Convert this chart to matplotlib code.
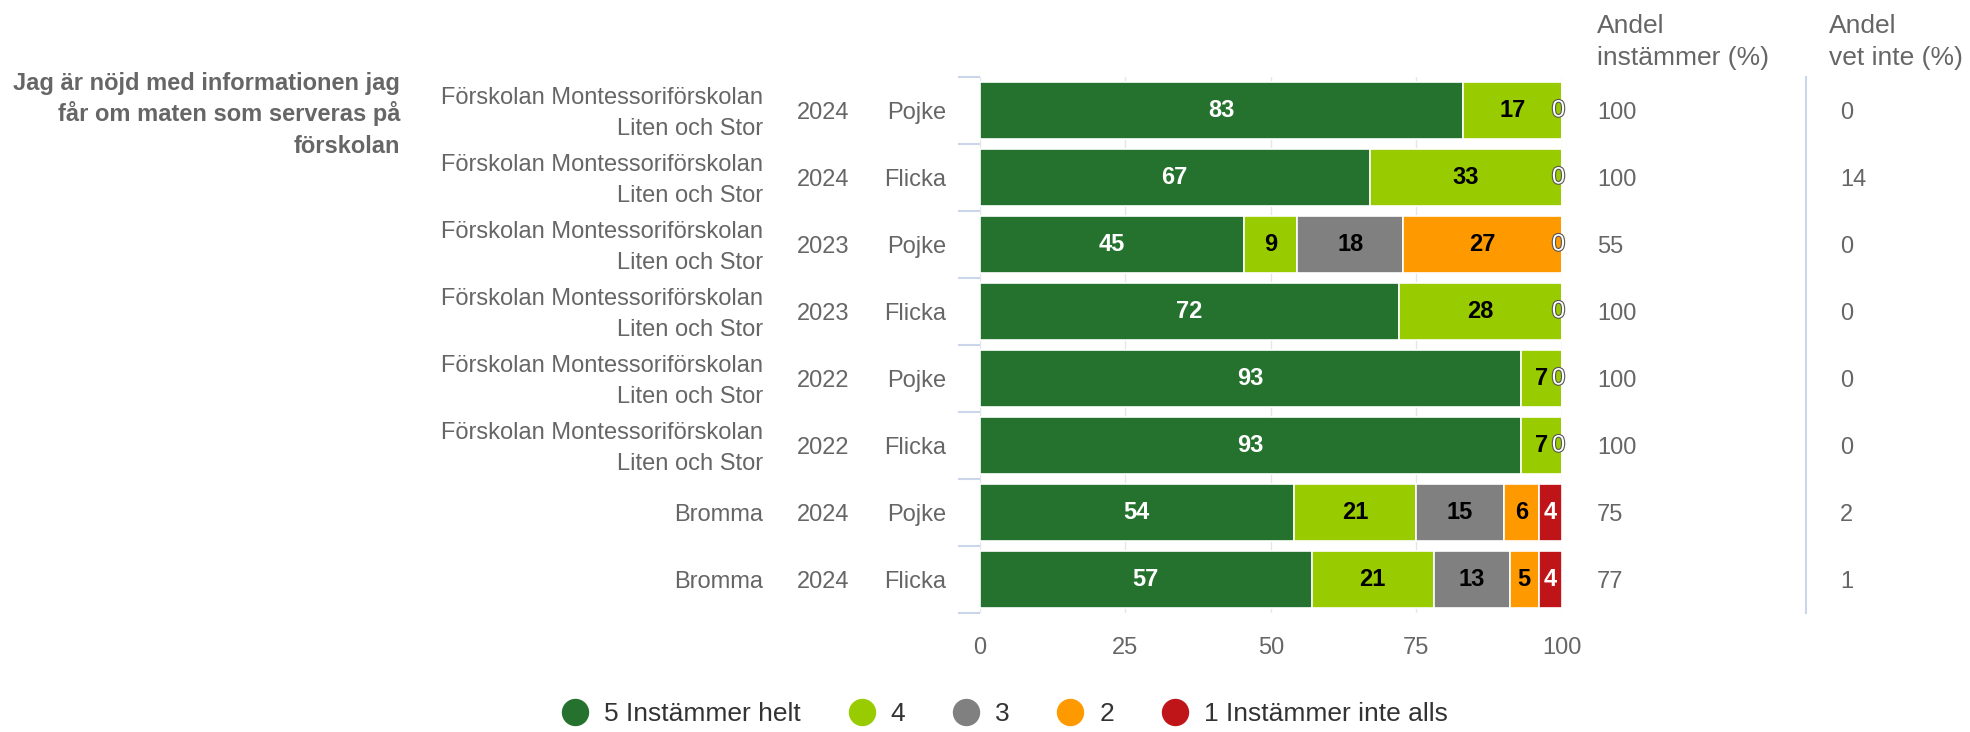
import matplotlib
matplotlib.use('Agg')
import matplotlib.pyplot as plt
import matplotlib.transforms as mtransforms
from matplotlib.lines import Line2D
import matplotlib.patheffects as pe
import numpy as np

plt.rcParams['font.family'] = ['Liberation Sans', 'DejaVu Sans']

# ---------------- data ----------------
title_lines = ["Jag är nöjd med informationen jag", "får om maten som serveras på", "förskolan"]
units = ["Förskolan Montessoriförskolan\nLiten och Stor"] * 6 + ["Bromma"] * 2
years = ["2024", "2024", "2023", "2023", "2022", "2022", "2024", "2024"]
genders = ["Pojke", "Flicka", "Pojke", "Flicka", "Pojke", "Flicka", "Pojke", "Flicka"]
series_names = ["5 Instämmer helt", "4", "3", "2", "1 Instämmer inte alls"]
s5 = [83, 67, 45.45, 72, 93, 93, 54, 57]
s4 = [17, 33, 9.09, 28, 7, 7, 21, 21]
s3 = [0, 0, 18.18, 0, 0, 0, 15, 13]
s2 = [0, 0, 27.27, 0, 0, 0, 6, 5]
s1 = [0, 0, 0, 0, 0, 0, 4, 4]
andel_instammer = [100, 100, 55, 100, 100, 100, 75, 77]
andel_vet_inte = [0, 14, 0, 0, 0, 0, 2, 1]
col_headers = [("Andel", "instämmer (%)"), ("Andel", "vet inte (%)")]
xticks = [0, 25, 50, 75, 100]

# ---------------- style ----------------
colors = ['#25722f', '#99cc00', '#808080', '#ff9900', '#bf1519']
label_colors = ['white', 'black', 'black', 'black', 'white']
TXT = '#666666'
W, H = 1970, 732
DPI = 100
FS = 17

fig = plt.figure(figsize=(W / DPI, H / DPI), dpi=DPI)
fx = lambda x: x / W
fy = lambda y: 1 - y / H

ax = fig.add_axes([fx(979.5), fy(613), (1562 - 979.5) / W, (613 - 77) / H])
series = [s5, s4, s3, s2, s1]
n = len(units)
ypos = np.arange(n)
left = np.zeros(n)
for j, vals in enumerate(series):
    vals = np.array(vals, dtype=float)
    ax.barh(ypos, vals, left=left, height=0.85, color=colors[j],
            edgecolor='white', linewidth=1.2, zorder=2)
    left = left + vals

# data labels
left = np.zeros(n)
zero_drawn = [False] * n
for j, vals in enumerate(series):
    for i, v in enumerate(vals):
        if v > 0:
            ax.text(left[i] + v / 2, i, f"{round(v)}", ha='center', va='center',
                    fontsize=FS, fontweight='bold', color=label_colors[j], zorder=4)
        elif not zero_drawn[i]:
            zero_drawn[i] = True
            ax.text(left[i] - 0.6, i, "0", ha='center', va='center', fontsize=FS,
                    color='white', zorder=4,
                    path_effects=[pe.withStroke(linewidth=1.6, foreground='#555555')])
    left = left + np.array(vals, dtype=float)

ax.set_xlim(0, 100)
ax.set_ylim(n - 0.5, -0.5)
ax.set_xticks(xticks)
ax.set_xticklabels([str(t) for t in xticks])
ax.tick_params(axis='x', length=0, pad=17.5, labelsize=FS, labelcolor=TXT)
ax.set_yticks(np.arange(-0.5, n, 1))
ax.set_yticklabels([])
ax.tick_params(axis='y', length=15.8, width=1.5, color='#ccd6eb', direction='out')
ax.grid(axis='x', color='#e6e6e6', lw=1, zorder=0)
ax.set_axisbelow(True)
for s in ax.spines.values():
    s.set_visible(False)

trans = mtransforms.blended_transform_factory(fig.transFigure, ax.transData)


def off(dy):
    return mtransforms.offset_copy(trans, fig=fig, y=dy, units='dots')


for i in range(n):
    parts = units[i].split("\n")
    if len(parts) == 2:
        ax.text(fx(763), i, parts[0], transform=off(6.5), ha='right', va='baseline',
                fontsize=FS, color=TXT)
        ax.text(fx(763), i, parts[1], transform=off(-24.5), ha='right', va='baseline',
                fontsize=FS, color=TXT)
    else:
        ax.text(fx(763), i, parts[0], transform=off(-8.5), ha='right', va='baseline',
                fontsize=FS, color=TXT)
    ax.text(fx(823), i, years[i], transform=off(-8.5), ha='center', va='baseline',
            fontsize=FS, color=TXT)
    ax.text(fx(946), i, genders[i], transform=off(-8.5), ha='right', va='baseline',
            fontsize=FS, color=TXT)
    ax.text(fx(1597), i, str(andel_instammer[i]), transform=off(-8.5), ha='left',
            va='baseline', fontsize=FS, color=TXT)
    ax.text(fx(1840), i, str(andel_vet_inte[i]), transform=off(-8.5), ha='left',
            va='baseline', fontsize=FS, color=TXT)

# column headers
for (l1, l2), x in zip(col_headers, [1597, 1829]):
    fig.text(fx(x), fy(33), l1, ha='left', va='baseline', fontsize=19, color=TXT)
    fig.text(fx(x), fy(65), l2, ha='left', va='baseline', fontsize=19, color=TXT)

fig.add_artist(Line2D([fx(1806), fx(1806)], [fy(77), fy(613)], color='#ccd6eb', lw=1.5))

# question title
for k, line in enumerate(title_lines):
    fig.text(fx(400), fy(90 + 31.3 * k), line, ha='right', va='baseline',
             fontsize=FS, fontweight='bold', color=TXT)

# legend
handles = [Line2D([], [], marker='o', ls='', markersize=18.7, markerfacecolor=c,
                  markeredgecolor=c) for c in colors]
fig.legend(handles, series_names, loc='center', bbox_to_anchor=(fx(1005), fy(714)),
           ncol=5, frameon=False, fontsize=19, handlelength=1.0, handletextpad=0.6,
           columnspacing=1.8, labelcolor='#333333', borderpad=0, borderaxespad=0)

fig.savefig('out.png', dpi=DPI)
